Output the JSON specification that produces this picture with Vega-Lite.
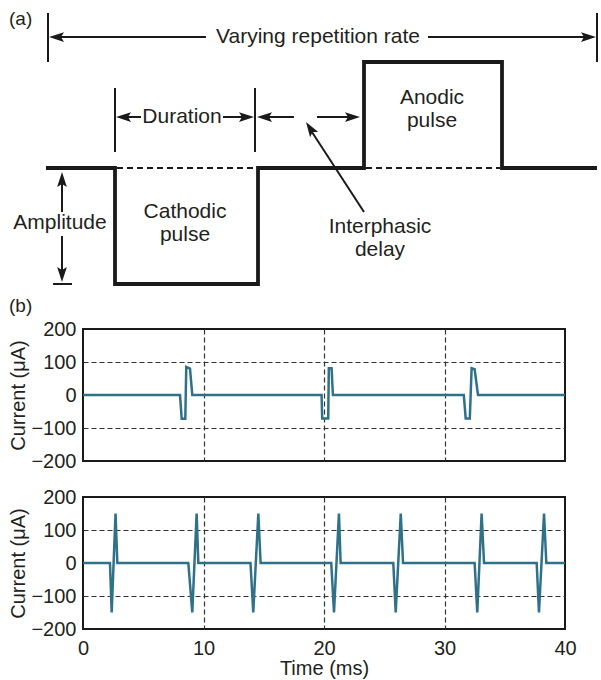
{
  "$schema": "https://vega.github.io/schema/vega-lite/v6.json",
  "padding": {"left": 7, "top": 0, "right": 0, "bottom": 0},
  "background": "white",
  "bounds": "flush",
  "spacing": 36,
  "config": {
    "font": "Liberation Sans",
    "view": {"stroke": "#1a1a1a", "strokeWidth": 2},
    "axisY": {"labelFontSize": 20, "labelPadding": 7, "labelColor": "#231f20", "ticks": false, "tickSize": 0, "domain": false, "titleFontSize": 20, "titleFontWeight": "normal", "titleColor": "#231f20", "titlePadding": 2},
    "axisX": {"labelFontSize": 20, "labelPadding": 9, "labelColor": "#231f20", "labelFlush": false, "ticks": false, "tickSize": 0, "domain": false, "titleFontSize": 20, "titleFontWeight": "normal", "titleColor": "#231f20", "titlePadding": 0}
  },
  "datasets": {
    "wave": [
      {"i": 0, "x": 47, "y": 0}, {"i": 1, "x": 116, "y": 0}, {"i": 2, "x": 116, "y": -116}, {"i": 3, "x": 259, "y": -116},
      {"i": 4, "x": 259, "y": 0}, {"i": 5, "x": 365, "y": 0}, {"i": 6, "x": 365, "y": 106}, {"i": 7, "x": 503, "y": 106},
      {"i": 8, "x": 503, "y": 0}, {"i": 9, "x": 598, "y": 0}
    ],
    "dashed": [
      {"x": 118, "x2": 257, "y": 0},
      {"x": 367, "x2": 501, "y": 0}
    ],
    "thin": [
      {"x": 49, "y": 155, "x2": 49, "y2": 106},
      {"x": 598, "y": 155, "x2": 598, "y2": 106},
      {"x": 53, "y": 131, "x2": 207, "y2": 131},
      {"x": 429, "y": 131, "x2": 594, "y2": 131},
      {"x": 116, "y": 80, "x2": 116, "y2": 16},
      {"x": 256, "y": 80, "x2": 256, "y2": 16},
      {"x": 120, "y": 51, "x2": 142, "y2": 51},
      {"x": 224, "y": 51, "x2": 252, "y2": 51},
      {"x": 261, "y": 51, "x2": 295, "y2": 51},
      {"x": 318, "y": 51, "x2": 358, "y2": 51},
      {"x": 63, "y": -8, "x2": 63, "y2": -44},
      {"x": 63, "y": -68, "x2": 63, "y2": -110},
      {"x": 54, "y": -116, "x2": 73, "y2": -116},
      {"x": 365, "y": -44, "x2": 311, "y2": 39}
    ],
    "heads": [
      {"x": 50, "y": 131, "a": 180}, {"x": 597, "y": 131, "a": 0},
      {"x": 117, "y": 51, "a": 180}, {"x": 255, "y": 51, "a": 0},
      {"x": 258, "y": 51, "a": 180}, {"x": 361, "y": 51, "a": 0},
      {"x": 63, "y": -4, "a": 270}, {"x": 63, "y": -114, "a": 90},
      {"x": 307, "y": 46, "a": 237}
    ],
    "labels": [
      {"x": 319, "y": 131, "t": "Varying repetition rate"},
      {"x": 183, "y": 51, "t": "Duration"},
      {"x": 61, "y": -55, "t": "Amplitude"},
      {"x": 186, "y": -44, "t": "Cathodic"},
      {"x": 186, "y": -67, "t": "pulse"},
      {"x": 433, "y": 70, "t": "Anodic"},
      {"x": 433, "y": 47, "t": "pulse"},
      {"x": 381, "y": -59, "t": "Interphasic"},
      {"x": 381, "y": -82, "t": "delay"}
    ],
    "tags": [
      {"x": 10, "y": 149, "t": "(a)"},
      {"x": 10, "y": -138, "t": "(b)"}
    ],
    "b1": [
      {"t": 0, "i": 0}, {"t": 8.05, "i": 0}, {"t": 8.19, "i": -72}, {"t": 8.49, "i": -72}, {"t": 8.57, "i": 85}, {"t": 8.88, "i": 80}, {"t": 9.07, "i": 0},
      {"t": 19.8, "i": 0}, {"t": 19.85, "i": -71}, {"t": 20.35, "i": -71}, {"t": 20.4, "i": 81}, {"t": 20.63, "i": 81}, {"t": 20.74, "i": 0},
      {"t": 31.6, "i": 0}, {"t": 31.76, "i": -71}, {"t": 32.1, "i": -71}, {"t": 32.25, "i": 81}, {"t": 32.5, "i": 78}, {"t": 32.78, "i": 0},
      {"t": 40, "i": 0}
    ],
    "b2": [
      {"t": 0, "i": 0}, {"t": 2.24, "i": 0}, {"t": 2.38, "i": -150}, {"t": 2.7, "i": 150}, {"t": 2.85, "i": 0},
      {"t": 8.74, "i": 0}, {"t": 9.07, "i": -150}, {"t": 9.43, "i": 150}, {"t": 9.57, "i": 0},
      {"t": 13.9, "i": 0}, {"t": 14.13, "i": -150}, {"t": 14.55, "i": 150}, {"t": 14.74, "i": 0},
      {"t": 20.6, "i": 0}, {"t": 20.83, "i": -150}, {"t": 21.24, "i": 150}, {"t": 21.38, "i": 0},
      {"t": 25.75, "i": 0}, {"t": 25.95, "i": -150}, {"t": 26.37, "i": 150}, {"t": 26.56, "i": 0},
      {"t": 32.5, "i": 0}, {"t": 32.72, "i": -150}, {"t": 33.08, "i": 150}, {"t": 33.28, "i": 0},
      {"t": 37.65, "i": 0}, {"t": 37.84, "i": -150}, {"t": 38.26, "i": 150}, {"t": 38.45, "i": 0},
      {"t": 40, "i": 0}
    ]
  },
  "vconcat": [
    {
      "width": 482,
      "height": 293,
      "view": {"stroke": null},
      "layer": [
        {
          "data": {"name": "wave"},
          "mark": {"type": "line", "color": "#1a1a1a", "strokeWidth": 3.8, "strokeJoin": "miter", "strokeCap": "butt"},
          "encoding": {
            "x": {"field": "x", "type": "quantitative", "scale": {"domain": [84, 566], "nice": false, "zero": false}, "axis": null},
            "y": {"field": "y", "type": "quantitative", "scale": {"domain": [-125, 168], "nice": false, "zero": false}, "axis": null},
            "order": {"field": "i", "type": "quantitative"}
          }
        },
        {
          "data": {"name": "dashed"},
          "mark": {"type": "rule", "color": "#1a1a1a", "strokeWidth": 1.8, "strokeDash": [6, 4]},
          "encoding": {
            "x": {"field": "x", "type": "quantitative", "scale": {"domain": [84, 566], "nice": false, "zero": false}, "axis": null},
            "x2": {"field": "x2"},
            "y": {"field": "y", "type": "quantitative", "scale": {"domain": [-125, 168], "nice": false, "zero": false}, "axis": null}
          }
        },
        {
          "data": {"name": "thin"},
          "mark": {"type": "rule", "color": "#1a1a1a", "strokeWidth": 2},
          "encoding": {
            "x": {"field": "x", "type": "quantitative", "scale": {"domain": [84, 566], "nice": false, "zero": false}, "axis": null},
            "x2": {"field": "x2"},
            "y": {"field": "y", "type": "quantitative", "scale": {"domain": [-125, 168], "nice": false, "zero": false}, "axis": null},
            "y2": {"field": "y2"}
          }
        },
        {
          "data": {"name": "heads"},
          "mark": {"type": "point", "shape": "M0,0L-2,-0.65L-1.6,0L-2,0.65Z", "filled": true, "size": 225, "color": "#1a1a1a", "opacity": 1, "strokeWidth": 0},
          "encoding": {
            "x": {"field": "x", "type": "quantitative", "scale": {"domain": [84, 566], "nice": false, "zero": false}, "axis": null},
            "y": {"field": "y", "type": "quantitative", "scale": {"domain": [-125, 168], "nice": false, "zero": false}, "axis": null},
            "angle": {"field": "a", "type": "quantitative", "scale": null}
          }
        },
        {
          "data": {"name": "labels"},
          "mark": {"type": "text", "fontSize": 21, "color": "#231f20", "align": "center", "baseline": "middle"},
          "encoding": {
            "x": {"field": "x", "type": "quantitative", "scale": {"domain": [84, 566], "nice": false, "zero": false}, "axis": null},
            "y": {"field": "y", "type": "quantitative", "scale": {"domain": [-125, 168], "nice": false, "zero": false}, "axis": null},
            "text": {"field": "t"}
          }
        },
        {
          "data": {"name": "tags"},
          "mark": {"type": "text", "fontSize": 19, "color": "#231f20", "align": "left", "baseline": "middle"},
          "encoding": {
            "x": {"field": "x", "type": "quantitative", "scale": {"domain": [84, 566], "nice": false, "zero": false}, "axis": null},
            "y": {"field": "y", "type": "quantitative", "scale": {"domain": [-125, 168], "nice": false, "zero": false}, "axis": null},
            "text": {"field": "t"}
          }
        }
      ]
    },
    {
      "width": 482,
      "height": 132,
      "data": {"name": "b1"},
      "mark": {"type": "line", "color": "#2e7189", "strokeWidth": 2.5},
      "encoding": {
        "x": {"field": "t", "type": "quantitative", "scale": {"domain": [0, 40], "nice": false},
          "axis": {"values": [0, 10, 20, 30, 40], "labels": false, "title": null, "grid": true, "gridColor": "#333333", "gridDash": [5, 3], "gridWidth": 1.2,
            "gridOpacity": {"condition": {"test": "datum.value > 0 && datum.value < 40", "value": 1}, "value": 0}}},
        "y": {"field": "i", "type": "quantitative", "scale": {"domain": [-200, 200], "nice": false},
          "axis": {"values": [-200, -100, 0, 100, 200], "title": "Current (μA)", "grid": true, "gridColor": "#333333", "gridDash": [5, 3], "gridWidth": 1.2,
            "gridOpacity": {"condition": {"test": "abs(datum.value) == 100", "value": 1}, "value": 0}}}
      }
    },
    {
      "width": 482,
      "height": 132,
      "data": {"name": "b2"},
      "mark": {"type": "line", "color": "#2e7189", "strokeWidth": 2.5},
      "encoding": {
        "x": {"field": "t", "type": "quantitative", "scale": {"domain": [0, 40], "nice": false},
          "axis": {"values": [0, 10, 20, 30, 40], "title": "Time (ms)", "grid": true, "gridColor": "#333333", "gridDash": [5, 3], "gridWidth": 1.2,
            "gridOpacity": {"condition": {"test": "datum.value > 0 && datum.value < 40", "value": 1}, "value": 0}}},
        "y": {"field": "i", "type": "quantitative", "scale": {"domain": [-200, 200], "nice": false},
          "axis": {"values": [-200, -100, 0, 100, 200], "title": "Current (μA)", "grid": true, "gridColor": "#333333", "gridDash": [5, 3], "gridWidth": 1.2,
            "gridOpacity": {"condition": {"test": "abs(datum.value) == 100", "value": 1}, "value": 0}}}
      }
    }
  ]
}
